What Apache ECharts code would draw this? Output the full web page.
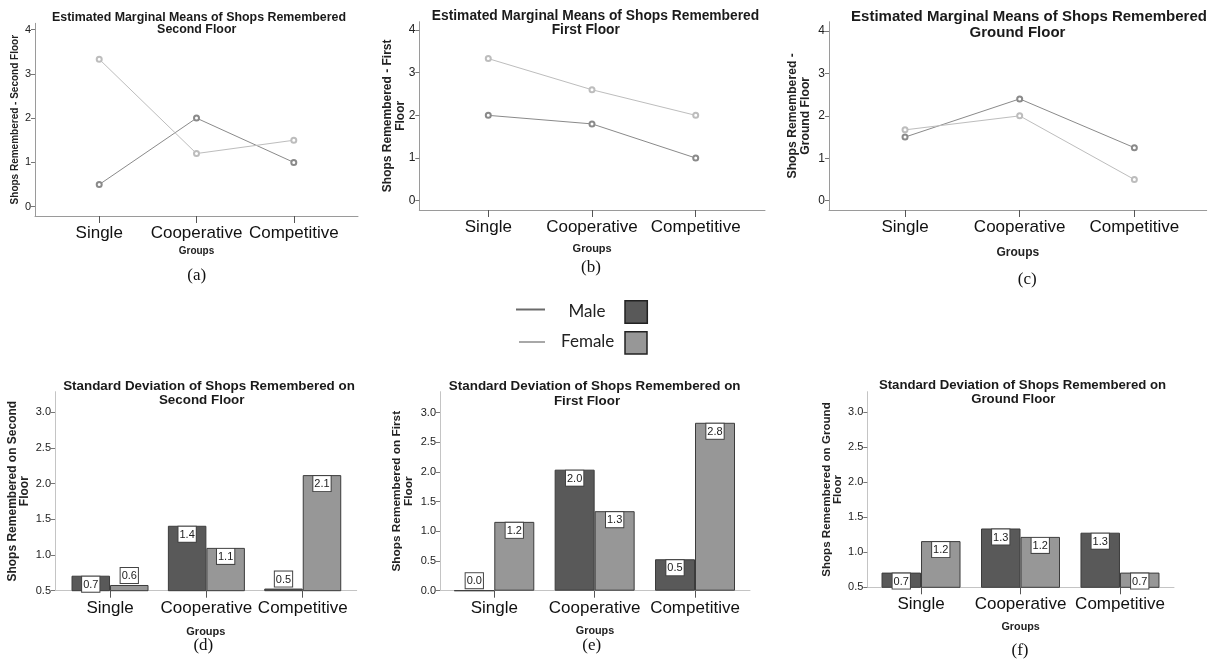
<!DOCTYPE html>
<html><head><meta charset="utf-8">
<script src="https://cdn.jsdelivr.net/npm/echarts@6/dist/echarts.min.js"></script>
<style>html,body{margin:0;padding:0;background:#fff}#c{width:1211px;height:661px}</style>
</head><body><div id="c"></div><script>
// ---------- data ----------
const groups = ['Single', 'Cooperative', 'Competitive'];
const meanSecondMale   = [0.5, 2.0, 1.0];
const meanSecondFemale = [3.33, 1.2, 1.5];
const meanFirstMale    = [2.0, 1.8, 1.0];
const meanFirstFemale  = [3.33, 2.6, 2.0];
const meanGroundMale   = [1.5, 2.4, 1.25];
const meanGroundFemale = [1.67, 2.0, 0.5];
const sdSecondMale     = [0.71, 1.41, 0.53];
const sdSecondFemale   = [0.58, 1.10, 2.12];
const sdFirstMale      = [0.0, 2.04, 0.53];
const sdFirstFemale    = [1.16, 1.34, 2.83];
const sdGroundMale     = [0.71, 1.34, 1.28];
const sdGroundFemale   = [1.16, 1.22, 0.71];
const meanTicks  = [0, 1, 2, 3, 4];
const sdTicksHalf = [0.5, 1.0, 1.5, 2.0, 2.5, 3.0];
const sdTicksZero = [0.0, 0.5, 1.0, 1.5, 2.0, 2.5, 3.0];
const seriesNames = ['Male', 'Female'];

// ---------- style / layout ----------
const SANS = 'Liberation Sans, Arial, sans-serif';
const SERIF = 'Liberation Serif, Times New Roman, serif';
const LINE_COL = ['#8a8a8a', '#bdbdbd'];
const BAR_COL = ['#595959', '#979797'];
const catIdx = groups.map((g, i) => i);

const panels = [
  {kind:'line', male:meanSecondMale, female:meanSecondFemale, ticks:meanTicks,
   grid:{left:35, top:23.3, width:323, height:192.7}, x:[-0.66, 2.66], y:[-0.21, 4.14],
   yName:'Shops Remembered - Second Floor', yNameSize:10, yNameLH:12, yNameGap:13.5, yLabSize:11,
   gGap:30, gSize:10, catMargin:9,
   t1:'Estimated Marginal Means of Shops Remembered', t2:'Second Floor', tx:[199,196.7], ty:[17.3,29.3], tSize:12.4,
   sub:'(a)', sx:196.7, sy:276},
  {kind:'line', male:meanFirstMale, female:meanFirstFemale, ticks:meanTicks,
   grid:{left:419.3, top:21.7, width:345.7, height:188.3}, x:[-0.665, 2.668], y:[-0.218, 4.195],
   yName:'Shops Remembered - First\nFloor', yNameSize:12, yNameLH:13, yNameGap:12, yLabSize:12,
   gGap:33, gSize:11, catMargin:9,
   t1:'Estimated Marginal Means of Shops Remembered', t2:'First Floor', tx:[595.5,585.8], ty:[16,30], tSize:13.8,
   sub:'(b)', sx:591, sy:267.7},
  {kind:'line', male:meanGroundMale, female:meanGroundFemale, ticks:meanTicks,
   grid:{left:829, top:21.7, width:377.7, height:188.3}, x:[-0.663, 2.631], y:[-0.219, 4.22],
   yName:'Shops Remembered -\nGround Floor', yNameSize:12.2, yNameLH:13, yNameGap:16.5, yLabSize:12,
   gGap:37, gSize:12, catMargin:9,
   t1:'Estimated Marginal Means of Shops Remembered', t2:'Ground Floor', tx:[1029,1017.5], ty:[17.3,32.7], tSize:15,
   sub:'(c)', sx:1027.3, sy:279.3},
  {kind:'bar', male:sdSecondMale, female:sdSecondFemale, ticks:sdTicksHalf, barW:38.5,
   grid:{left:55, top:391.7, width:301.7, height:199}, x:[-0.571, 2.56], y:[0.5, 3.289],
   yName:'Shops Remembered on Second\nFloor', yNameSize:12, yNameLH:12, yNameGap:24, yLabSize:11,
   gGap:35.5, gSize:11, catMargin:9,
   t1:'Standard Deviation of Shops Remembered on', t2:'Second Floor', tx:[209,201.7], ty:[386,400], tSize:13.4,
   sub:'(d)', sx:203.3, sy:646},
  {kind:'bar', male:sdFirstMale, female:sdFirstFemale, ticks:sdTicksZero, barW:40,
   grid:{left:440, top:391.7, width:310, height:199}, x:[-0.541, 2.548], y:[0, 3.354],
   yName:'Shops Remembered on First\nFloor', yNameSize:11.8, yNameLH:12.3, yNameGap:25, yLabSize:11,
   gGap:35, gSize:10.8, catMargin:9,
   t1:'Standard Deviation of Shops Remembered on', t2:'First Floor', tx:[594.7,587], ty:[386.7,401.7], tSize:13.4,
   sub:'(e)', sx:591.7, sy:645.7},
  {kind:'bar', male:sdGroundMale, female:sdGroundFemale, ticks:sdTicksHalf, barW:39.5,
   grid:{left:867.3, top:391.7, width:306.7, height:195.6}, x:[-0.54, 2.543], y:[0.5, 3.294],
   yName:'Shops Remembered on Ground\nFloor', yNameSize:11.6, yNameLH:11.6, yNameGap:23.5, yLabSize:11,
   gGap:34.5, gSize:10.8, catMargin:9,
   t1:'Standard Deviation of Shops Remembered on', t2:'Ground Floor', tx:[1022.5,1013.3], ty:[385,399.3], tSize:13.2,
   sub:'(f)', sx:1020, sy:651}
];

const grids = [], xAxes = [], yAxes = [], series = [], titles = [];

panels.forEach((p, k) => {
  const isBar = p.kind === 'bar';
  grids.push(Object.assign({outerBoundsMode:'none', containLabel:false}, p.grid));
  const axisCol = isBar ? '#c4c4c4' : '#9a9a9a';
  xAxes.push({
    gridIndex:k, type:'value', min:p.x[0], max:p.x[1],
    name:'Groups', nameLocation:'middle', nameGap:p.gGap, nameMoveOverlap:false,
    nameTextStyle:{fontFamily:SANS, fontWeight:'bold', fontSize:p.gSize, color:'#222'},
    axisLine:{show:true, onZero:false, lineStyle:{color:axisCol, width:1}},
    axisTick:{show:true, customValues:catIdx, length:7, lineStyle:{color:'#555'}},
    axisLabel:{show:true, customValues:catIdx, formatter:v => groups[Math.round(v)],
      fontFamily:SANS, fontSize:17, color:'#111', margin:p.catMargin},
    splitLine:{show:false}
  });
  yAxes.push({
    gridIndex:k, type:'value', min:p.y[0], max:p.y[1],
    name:p.yName, nameLocation:'middle', nameRotate:90, nameGap:p.yNameGap, nameMoveOverlap:false,
    nameTextStyle:{fontFamily:SANS, fontWeight:'bold', fontSize:p.yNameSize, lineHeight:p.yNameLH, color:'#222'},
    axisLine:{show:true, onZero:false, lineStyle:{color:axisCol, width:1}},
    axisTick:{show:true, customValues:p.ticks, length:4, lineStyle:{color:'#777'}},
    axisLabel:{show:true, customValues:p.ticks, formatter:v => isBar ? v.toFixed(1) : String(Math.round(v)),
      fontFamily:SANS, fontSize:p.yLabSize, color:'#222', margin:4},
    splitLine:{show:false}
  });
  [p.male, p.female].forEach((arr, s) => {
    if (!isBar) {
      series.push({
        type:'line', name:seriesNames[s], xAxisIndex:k, yAxisIndex:k,
        data:arr.map((v, i) => [i, v]),
        symbol:'emptyCircle', symbolSize:5,
        lineStyle:{color:LINE_COL[s], width:1},
        itemStyle:{color:LINE_COL[s], borderWidth:1},
        silent:true, animation:false
      });
    } else {
      const span = p.y[1] - p.y[0];
      series.push({
        type:'bar', name:seriesNames[s], xAxisIndex:k, yAxisIndex:k,
        barWidth:p.barW, barGap:'0%',
        data:arr.map((v, i) => {
          const px = (v - p.y[0]) / span * p.grid.height;
          const small = px < 14;
          return {value:[i, v], label:{position: small ? 'top' : 'insideTop', distance: small ? 2 : 1}};
        }),
        itemStyle:{color:BAR_COL[s], borderColor:'#3c3c3c', borderWidth:1},
        label:{show:true, formatter:q => q.value[1].toFixed(1), fontFamily:SANS, fontSize:11,
          color:'#222', backgroundColor:'#fff', borderColor:'#444', borderWidth:1,
          padding:[2,1,1,1], lineHeight:12},
        silent:true, animation:false
      });
    }
  });
  const lh = p.tSize * 1.15;
  [p.t1, p.t2].forEach((t, j) => {
    titles.push({text:t, left:p.tx[j], top:p.ty[j] - lh / 2, textAlign:'center', padding:0,
      textStyle:{fontFamily:SANS, fontWeight:'bold', fontSize:p.tSize, lineHeight:lh, color:'#1a1a1a'}});
  });
  titles.push({text:p.sub, left:p.sx, top:p.sy - 10, textAlign:'center', padding:0,
    textStyle:{fontFamily:SERIF, fontWeight:'normal', fontSize:17, lineHeight:20, color:'#111'}});
});

// legend (shared, drawn in the middle)
const LEG_FONT = 'Lato, Open Sans, sans-serif';
const legend = [
  {type:'line', shape:{x1:516, y1:309.5, x2:545, y2:309.5}, style:{stroke:'#6a6a6a', lineWidth:2}},
  {type:'text', x:587, y:311.7, style:{text:'Male', font:'17px ' + LEG_FONT, fill:'#222', align:'center', verticalAlign:'middle'}},
  {type:'rect', shape:{x:625, y:300.7, width:22.3, height:22.6}, style:{fill:BAR_COL[0], stroke:'#222', lineWidth:1.5}},
  {type:'line', shape:{x1:519, y1:342, x2:545, y2:342}, style:{stroke:'#a8a8a8', lineWidth:2}},
  {type:'text', x:587.7, y:341.7, style:{text:'Female', font:'17px ' + LEG_FONT, fill:'#222', align:'center', verticalAlign:'middle'}},
  {type:'rect', shape:{x:625, y:331.7, width:22, height:22.3}, style:{fill:BAR_COL[1], stroke:'#222', lineWidth:1.5}}
];

const chart = echarts.init(document.getElementById('c'), null, {renderer:'canvas'});
chart.setOption({
  backgroundColor:'#fff', animation:false,
  title:titles, grid:grids, xAxis:xAxes, yAxis:yAxes, series:series,
  graphic:legend
});
</script></body></html>
